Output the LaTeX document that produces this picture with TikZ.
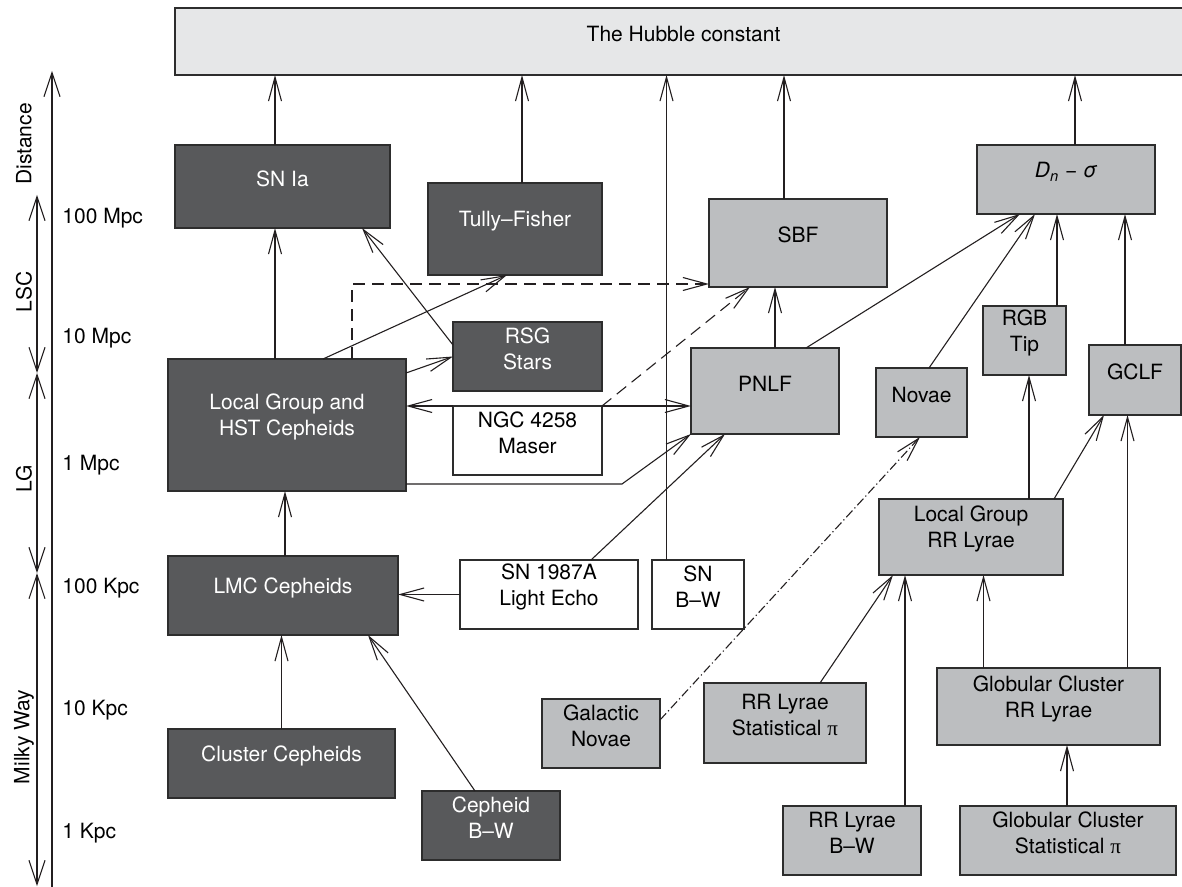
\documentclass[tikz,border=0pt]{standalone}
\usepackage{fontspec}
\setmainfont{TeX Gyre Heros}
\newfontfamily\pifont{Liberation Serif}
\usetikzlibrary{arrows.meta,calc,fit}
\definecolor{darkbox}{RGB}{88,89,91}
\definecolor{lightbox}{RGB}{188,190,192}
\definecolor{hubbox}{RGB}{230,231,232}
\definecolor{edgecol}{RGB}{45,45,45}
\definecolor{ink}{RGB}{35,31,32}
\begin{document}
\begin{tikzpicture}[x=0.5pt,y=-0.5pt,
  every node/.style={font=\fontsize{10.5}{13}\selectfont, align=center},
  bx/.style={draw=edgecol, line width=0.8pt, inner sep=0pt, outer sep=0pt},
  darkb/.style={bx, fill=darkbox, text=white},
  lightb/.style={bx, fill=lightbox, text=black},
  whiteb/.style={bx, fill=white, text=black},
  hubb/.style={bx, fill=hubbox, text=black},
  arr/.style={draw=ink, line width=0.55pt, -{Straight Barb[length=12pt,width=6.5pt]}},
  axarr/.style={draw=ink, line width=0.55pt, {Straight Barb[length=12pt,width=8pt]}-{Straight Barb[length=12pt,width=8pt]}},
  dsh/.style={dash pattern=on 6pt off 3.5pt},
  dshdot/.style={dash pattern=on 4.5pt off 1.5pt on 0.6pt off 1.5pt},
  lbl/.style={anchor=west, inner sep=0pt},
  rlbl/.style={rotate=90, inner sep=0pt}
]
\useasboundingbox (0,0) rectangle (1182,887);

% ---------- boxes ----------
\node[hubb, fit={(175,8)(1192,75)}] (hub) {The Hubble constant};
\node[darkb, fit={(175,145)(390,228)}] (snia) {SN Ia};
\node[darkb, fit={(428,183)(602,275)}] (tf) {Tully--Fisher};
\node[lightb, fit={(709,199)(887,287)}] (sbf) {SBF};
\node[lightb, fit={(977,145)(1155,214)}] (dns) {\itshape D\textsubscript{n} − σ};
\node[darkb, fit={(453,322)(602,391)}] (rsg) {RSG\\Stars};
\node[darkb, fit={(168,359)(406,491)}] (lg) {Local Group and\\HST Cepheids};
\node[whiteb, fit={(453,406)(602,475)}] (ngc) {NGC 4258\\Maser};
\node[lightb, fit={(691,348)(839,434)}] (pnlf) {PNLF};
\node[lightb, fit={(876,368)(967,437)}] (novae) {Novae};
\node[lightb, fit={(983,306)(1066,375)}] (rgb) {RGB\\Tip};
\node[lightb, fit={(1089,345)(1181,415)}] (gclf) {GCLF};
\node[lightb, fit={(879,499)(1063,575)}] (lgrr) {Local Group\\RR Lyrae};
\node[darkb, fit={(168,556)(398,635)}] (lmc) {LMC Cepheids};
\node[whiteb, fit={(460,560)(638,629)}] (sn87) {SN 1987A\\Light Echo};
\node[whiteb, fit={(652,560)(744,629)}] (snbw) {SN\\B--W};
\node[lightb, fit={(542,699)(660,768)}] (gnov) {Galactic\\Novae};
\node[lightb, fit={(704,683)(866,763)}] (rrstat) {RR Lyrae\\Statistical {\pifont π}};
\node[lightb, fit={(937,668)(1160,745)}] (gcrr) {Globular Cluster\\RR Lyrae};
\node[darkb, fit={(168,729)(395,798)}] (clc) {Cluster Cepheids};
\node[darkb, fit={(422,791)(560,860)}] (cepbw) {Cepheid\\B--W};
\node[lightb, fit={(783,806)(921,875)}] (rrbw) {RR Lyrae\\B--W};
\node[lightb, fit={(960,806)(1176,875)}] (gcstat) {Globular Cluster\\Statistical {\pifont π}};

% ---------- connectors ----------
\draw[arr] ($(snia.north)+(-7.5,0)$) coordinate (c1) -- (c1 |- hub.south);
\draw[arr] ($(tf.north)+(7,0)$) coordinate (c2) -- (c2 |- hub.south);
\draw[arr] ($(snbw.north)+(-31.5,0)$) coordinate (c3) -- (c3 |- hub.south);
\draw[arr] ($(sbf.north)+(-14,0)$) coordinate (c4) -- (c4 |- hub.south);
\draw[arr] ($(dns.north)+(9,0)$) coordinate (c5) -- (c5 |- hub.south);
\draw[arr] ($(lg.north)+(-12,0)$) coordinate (c6) -- (c6 |- snia.south);
\draw[arr] ($(rsg.west)+(0,-11.5)$) -- ($(snia.south)+(79.5,0)$);
\draw[arr] ($(lg.north)+(36,0)$) -- ($(tf.south)+(-8,0)$);
\draw[arr] ($(lg.north east)+(0,14)$) -- (rsg.west);
\draw[arr,dsh] ($(lg.north)+(65,0)$) |- ($(sbf.south west)+(0,-3)$);
\draw[arr,dsh] (ngc.north east) -- ($(sbf.south)+(-48,0)$);
\draw[arr] ($(pnlf.north)+(10,0)$) coordinate (c7) -- (c7 |- sbf.south);
\draw[arr] ($(pnlf.north)+(41,0)$) -- ($(dns.south)+(-46,0)$);
\draw[arr] ($(novae.north)+(7.5,0)$) -- ($(dns.south)+(-31,0)$);
\draw[arr] ($(rgb.north)+(32.5,0)$) coordinate (c8) -- (c8 |- dns.south);
\draw[arr] ($(gclf.north)+(-10,0)$) coordinate (c9) -- (c9 |- dns.south);
\draw[arr] (ngc.north west) -- (ngc.north west -| lg.east);
\draw[arr] (ngc.north east) -- (ngc.north east -| pnlf.west);
\draw[arr] ($(lg.south east)+(0,-7)$) coordinate (c10) -- ($(c10)+(216,0)$) -- (pnlf.south west);
\draw[arr] ($(sn87.north)+(42,0)$) -- ($(pnlf.south)+(-40,0)$);
\draw[arr] (sn87.west) -- (sn87.west -| lmc.east);
\draw[arr] ($(lmc.north)+(2,0)$) coordinate (c11) -- (c11 |- lg.south);
\draw[arr] (clc.north) -- (clc.north |- lmc.south);
\draw[arr] ($(cepbw.north)+(-16,0)$) -- ($(lmc.south)+(85,0)$);
\draw[arr,dshdot] ($(gnov.east)+(0,-13.5)$) -- ($(novae.south)+(-1.5,0)$);
\draw[arr] ($(rrstat.north)+(35,0)$) -- ($(lgrr.south west)+(14,0)$);
\draw[arr] ($(rrbw.north)+(53,0)$) coordinate (c12) -- (c12 |- lgrr.south);
\draw[arr] ($(gcrr.north)+(-65,0)$) coordinate (c13) -- (c13 |- lgrr.south);
\draw[arr] ($(gcrr.north)+(79,0)$) coordinate (c14) -- (c14 |- gclf.south);
\draw[arr] ($(gcstat.north)+(-1,0)$) coordinate (c15) -- (c15 |- gcrr.south);
\draw[arr] ($(lgrr.north)+(58,0)$) coordinate (c16) -- (c16 |- rgb.south);
\draw[arr] ($(lgrr.north)+(83,0)$) -- ($(gclf.south)+(-31,0)$);

% ---------- distance axis ----------
\coordinate (oTop) at (52,71);
\coordinate (oBot) at (52,887);
\coordinate (iA) at (37,195);
\coordinate (iB) at (37,373);
\coordinate (iC) at (37,573);
\coordinate (iD) at (37,886);
\draw[draw=ink, line width=0.55pt, -{Straight Barb[length=12pt,width=8pt]}] (oBot) -- (oTop);
\draw[axarr] (iB) -- (iA);
\draw[axarr] (iC) -- (iB);
\draw[axarr] (iC) -- (iD);

\node[rlbl] (tDist) at (24,144) {Distance};
\node[rlbl] (tLSC) at (24,292) {LSC};
\node[rlbl] (tLG) at (24,479) {LG};
\node[rlbl] (tMW) at (24,737) {Milky Way};

\node[lbl] (d1) at (62,218) {100 Mpc};
\node[lbl] (d2) at (62,338) {10 Mpc};
\node[lbl] (d3) at (62,465) {1 Mpc};
\node[lbl] (d4) at (62,588) {100 Kpc};
\node[lbl] (d5) at (62,710) {10 Kpc};
\node[lbl] (d6) at (62,833) {1 Kpc};
\end{tikzpicture}
\end{document}
